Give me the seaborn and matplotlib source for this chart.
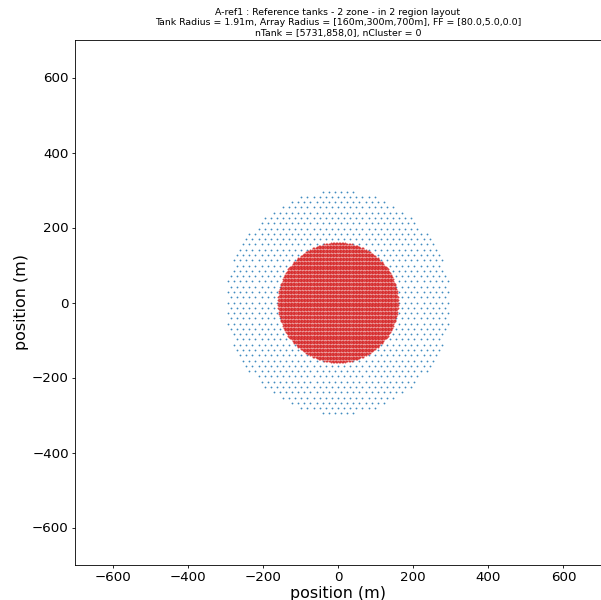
import numpy as np
import pandas as pd
import matplotlib
matplotlib.use("Agg")
import matplotlib.pyplot as plt
import seaborn as sns

# Layout parameters
tank_radius = 1.91                     # m
array_radius = [160.0, 300.0, 700.0]   # zone outer radii (m)
fill_factor = [80.0, 5.0, 0.0]         # percent
n_tank = [5731, 858, 0]
n_cluster = 0
zone_names = ["zone 1", "zone 2"]
zone_colors = ["tab:red", "tab:blue"]


def hex_lattice(pitch, r_in, r_out):
    """Hexagonal lattice points (horizontal rows) inside an annulus."""
    dy = pitch * np.sqrt(3) / 2
    nrow = int(np.ceil(r_out / dy)) + 1
    ncol = int(np.ceil(r_out / pitch)) + 2
    pts = []
    for j in range(-nrow, nrow + 1):
        y = j * dy
        off = 0.5 * pitch if j % 2 else 0.0
        xs = np.arange(-ncol, ncol + 1) * pitch + off
        rr = np.hypot(xs, y)
        sel = (rr <= r_out) & (rr >= r_in)
        for x in xs[sel]:
            pts.append((x, y))
    return np.array(pts)


frames = []
r_prev = 0.0
for name, r_out, ff in zip(zone_names, array_radius[:2], fill_factor[:2]):
    # lattice pitch giving the requested filling factor
    pitch = np.sqrt(np.pi * tank_radius**2 / (ff / 100.0 * np.sqrt(3) / 2))
    p = hex_lattice(pitch, r_prev + (1e-6 if r_prev > 0 else 0.0), r_out)
    frames.append(pd.DataFrame({"x": p[:, 0], "y": p[:, 1], "zone": name}))
    r_prev = r_out
df = pd.concat(frames, ignore_index=True)

sns.set_style("ticks")
plt.rcParams["font.family"] = ["DejaVu Sans"]
plt.rcParams.update({"text.color": "black", "axes.labelcolor": "black",
                     "xtick.color": "black", "ytick.color": "black",
                     "axes.edgecolor": "black"})

DPI = 60
fig = plt.figure(figsize=(601 / DPI, 600 / DPI), dpi=DPI)
ax = fig.add_axes([75 / 601, 35 / 600, 526 / 601, 525 / 600])

# marker scaled from the physical tank diameter
px_per_m = (525 / 1400)
diam_pt = 2 * tank_radius * px_per_m * 72 / DPI
msize = {"zone 1": diam_pt ** 2 * 1.9, "zone 2": diam_pt ** 2 * 1.6}

for name, col in zip(zone_names[::-1], zone_colors[::-1]):
    sub = df[df["zone"] == name]
    sns.scatterplot(data=sub, x="x", y="y", color=col, s=msize[name],
                    linewidth=0, alpha=0.85, ax=ax, legend=False)

ax.set_xlim(-700, 700)
ax.set_ylim(-700, 700)
ax.set_xticks(np.arange(-600, 601, 200))
ax.set_yticks(np.arange(-600, 601, 200))
ax.tick_params(labelsize=16, length=4, width=1)
for s in ax.spines.values():
    s.set_linewidth(1)
ax.set_xlabel("position (m)", fontsize=19, labelpad=2)
ax.set_ylabel("position (m)", fontsize=19, labelpad=4)
ax.set_title(
    "A-ref1 : Reference tanks - 2 zone - in 2 region layout\n"
    f"Tank Radius = {tank_radius}m, Array Radius = "
    f"[{','.join(f'{r:.0f}m' for r in array_radius)}], "
    f"FF = [{','.join(f'{f:.1f}' for f in fill_factor)}]\n"
    f"nTank = [{','.join(str(n) for n in n_tank)}], nCluster = {n_cluster}",
    fontsize=11.3, linespacing=1.2, pad=5)

fig.savefig("out.png", dpi=DPI)
print(df.groupby("zone").size())
